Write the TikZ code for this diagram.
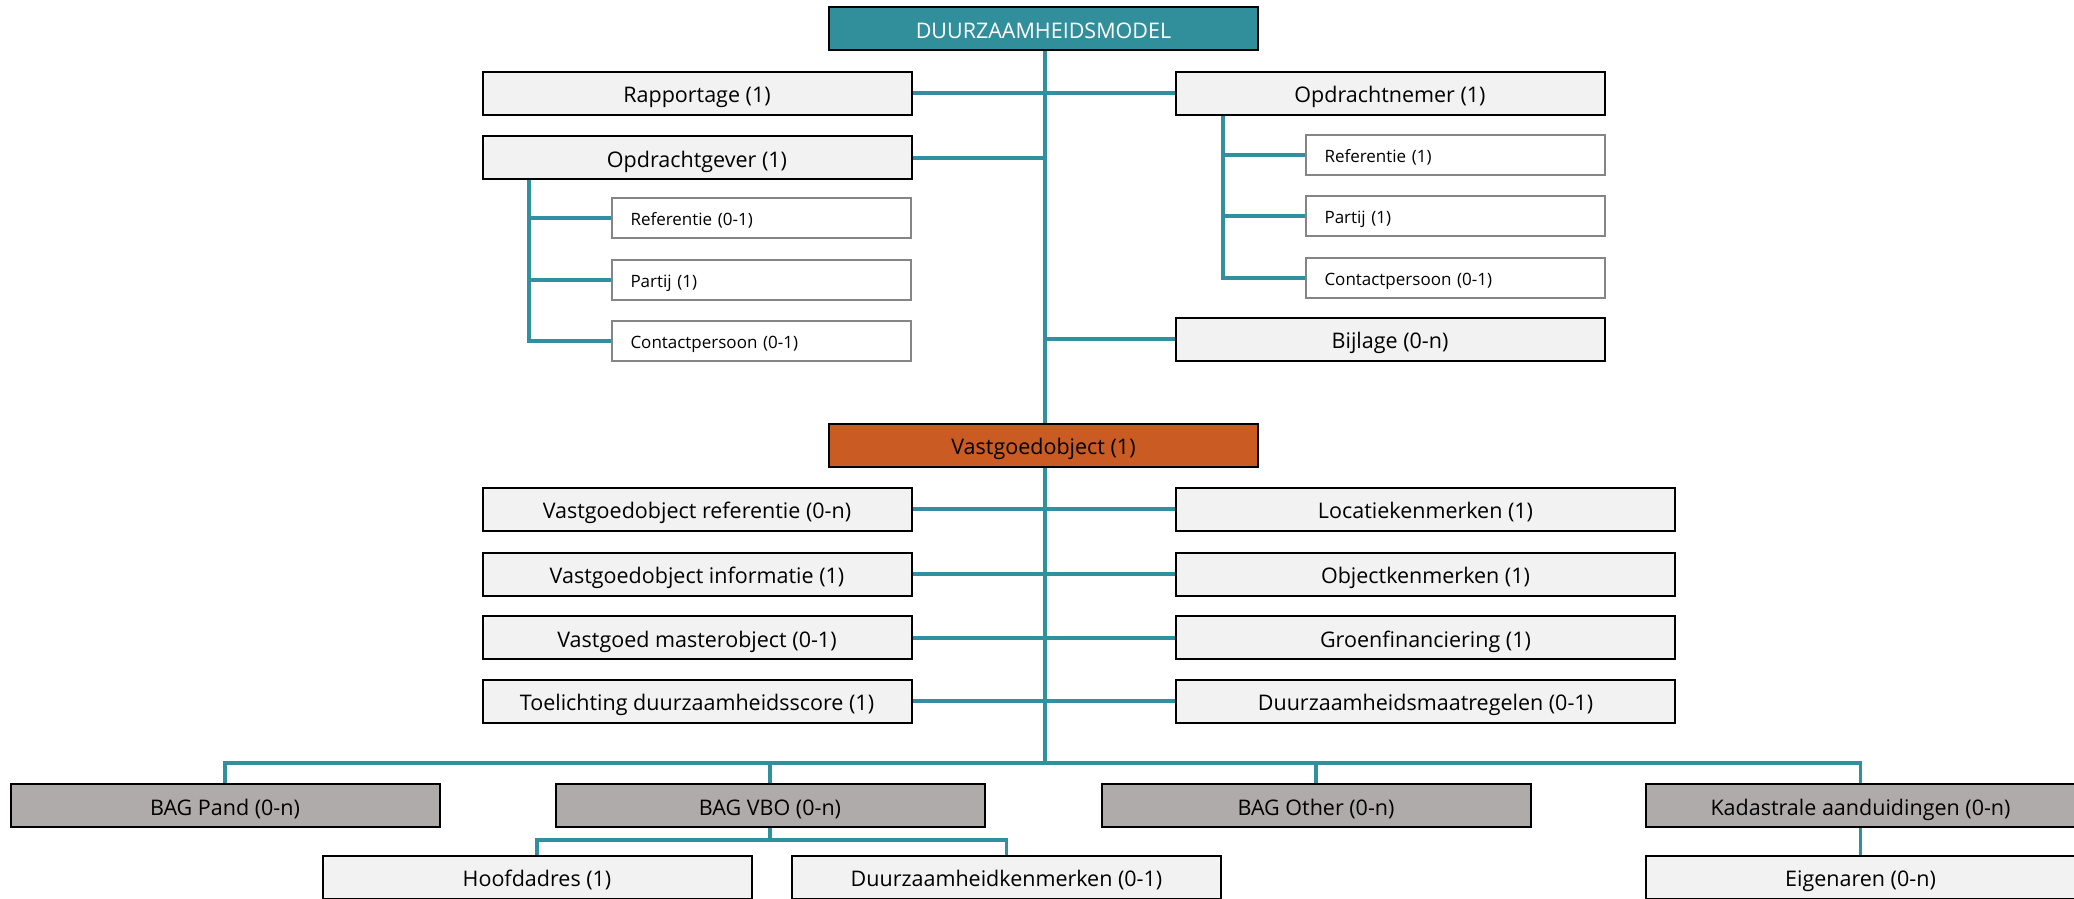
\documentclass[tikz,border=0pt]{standalone}
\usepackage{fontspec}
\setmainfont{Open Sans}
\definecolor{teal1}{HTML}{318F9B}
\definecolor{lin}{HTML}{3190A0}
\definecolor{orng}{HTML}{C95B23}
\definecolor{gry}{HTML}{AFABAA}
\definecolor{lgt}{HTML}{F2F2F2}
\definecolor{sbd}{HTML}{858585}
\tikzset{
  mainbox/.style={draw=black, line width=2pt, fill=lgt, minimum width=429pt, minimum height=43pt, inner sep=0pt, text height=19pt, text depth=0pt, font=\fontsize{21.5}{24}\selectfont},
  widebox/.style={mainbox, minimum width=499pt},
  subbox/.style={draw=sbd, line width=2pt, fill=white, minimum width=299pt, minimum height=40pt, inner sep=0pt, text height=15pt, text depth=0pt, font=\fontsize{17}{20}\selectfont, text width=262pt, align=left},
  topbox/.style={mainbox, fill=teal1, text=white},
  vgbox/.style={mainbox, fill=orng},
  bagbox/.style={mainbox, fill=gry},
  conn/.style={draw=lin, line width=4pt},
  bconn/.style={draw=lin, line width=3.5pt}
}
\begin{document}
\begin{tikzpicture}[x=1pt,y=-1pt]
\useasboundingbox (0,0) rectangle (2074,898);
% connector helper coordinates
\coordinate (tr) at (1045,0);
\coordinate (lb) at (529,0);
\coordinate (rb) at (1223,0);
\coordinate (bus) at (0,763);
\coordinate (vbus) at (0,840);
% top part
\node[topbox] (top) at (1043.5,28.5) {DUURZAAMHEIDSMODEL};
\node[mainbox] (rap) at (697,93) {Rapportage (1)};
\node[mainbox] (onem) at (1390,93) {Opdrachtnemer (1)};
\node[mainbox] (ogev) at (697,157.5) {Opdrachtgever (1)};
\node[subbox] (lref) at (761.5,218) {Referentie (0-1)};
\node[subbox] (lpar) at (761.5,279.5) {Partij (1)};
\node[subbox] (lcon) at (761.5,340.5) {Contactpersoon (0-1)};
\node[subbox] (rref) at (1455.5,155) {Referentie (1)};
\node[subbox] (rpar) at (1455.5,215.5) {Partij (1)};
\node[subbox] (rcon) at (1455.5,277.5) {Contactpersoon (0-1)};
\node[mainbox] (bij) at (1390,339) {Bijlage (0-n)};
\node[vgbox] (vg) at (1043.5,445) {Vastgoedobject (1)};
% middle rows
\node[mainbox] (l1) at (697,509) {Vastgoedobject referentie (0-n)};
\node[mainbox] (l2) at (697,574) {Vastgoedobject informatie (1)};
\node[mainbox] (l3) at (697,637.5) {Vastgoed masterobject (0-1)};
\node[mainbox] (l4) at (697,701) {Toelichting duurzaamheidsscore (1)};
\node[widebox] (r1) at (1425.5,509) {Locatiekenmerken (1)};
\node[widebox] (r2) at (1425.5,574) {Objectkenmerken (1)};
\node[widebox] (r3) at (1425.5,637.5) {Groenfinanciering (1)};
\node[widebox] (r4) at (1425.5,701) {Duurzaamheidsmaatregelen (0-1)};
% bottom
\node[bagbox] (pand) at (225,805.5) {BAG Pand (0-n)};
\node[bagbox] (vbo) at (770,805.5) {BAG VBO (0-n)};
\node[bagbox] (oth) at (1316,805.5) {BAG Other (0-n)};
\node[bagbox] (kad) at (1860.5,805.5) {Kadastrale aanduidingen (0-n)};
\node[mainbox] (hoof) at (537,877) {Hoofdadres (1)};
\node[mainbox] (dkm) at (1006.5,877) {Duurzaamheidkenmerken (0-1)};
\node[mainbox] (eig) at (1860.5,877) {Eigenaren (0-n)};
% connectors
\draw[conn] (tr |- top.south) -- (tr |- vg.north);
\draw[conn] (rap.east) -- (onem.west);
\draw[conn] (ogev.east) -- (tr |- ogev.east);
\draw[conn] (bij.west) -- (tr |- bij.west);
\draw[conn] (lb |- ogev.south) |- (lcon.west);
\draw[conn] (lb |- lref.west) -- (lref.west);
\draw[conn] (lb |- lpar.west) -- (lpar.west);
\draw[conn] (rb |- onem.south) |- (rcon.west);
\draw[conn] (rb |- rref.west) -- (rref.west);
\draw[conn] (rb |- rpar.west) -- (rpar.west);
\draw[conn] (tr |- vg.south) -- (tr |- bus);
\draw[conn] (l1.east) -- (r1.west);
\draw[conn] (l2.east) -- (r2.west);
\draw[conn] (l3.east) -- (r3.west);
\draw[conn] (l4.east) -- (r4.west);
\draw[bconn] (pand.north) -- (pand.north |- bus) -- (kad.north |- bus) -- (kad.north);
\draw[bconn] (vbo.north |- bus) -- (vbo.north);
\draw[bconn] (oth.north |- bus) -- (oth.north);
\draw[bconn] (vbo.south) -- (vbo.south |- vbus);
\draw[bconn] (hoof.north) -- (hoof.north |- vbus) -- (dkm.north |- vbus) -- (dkm.north);
\draw[bconn] (kad.south) -- (eig.north);
\end{tikzpicture}
\end{document}
